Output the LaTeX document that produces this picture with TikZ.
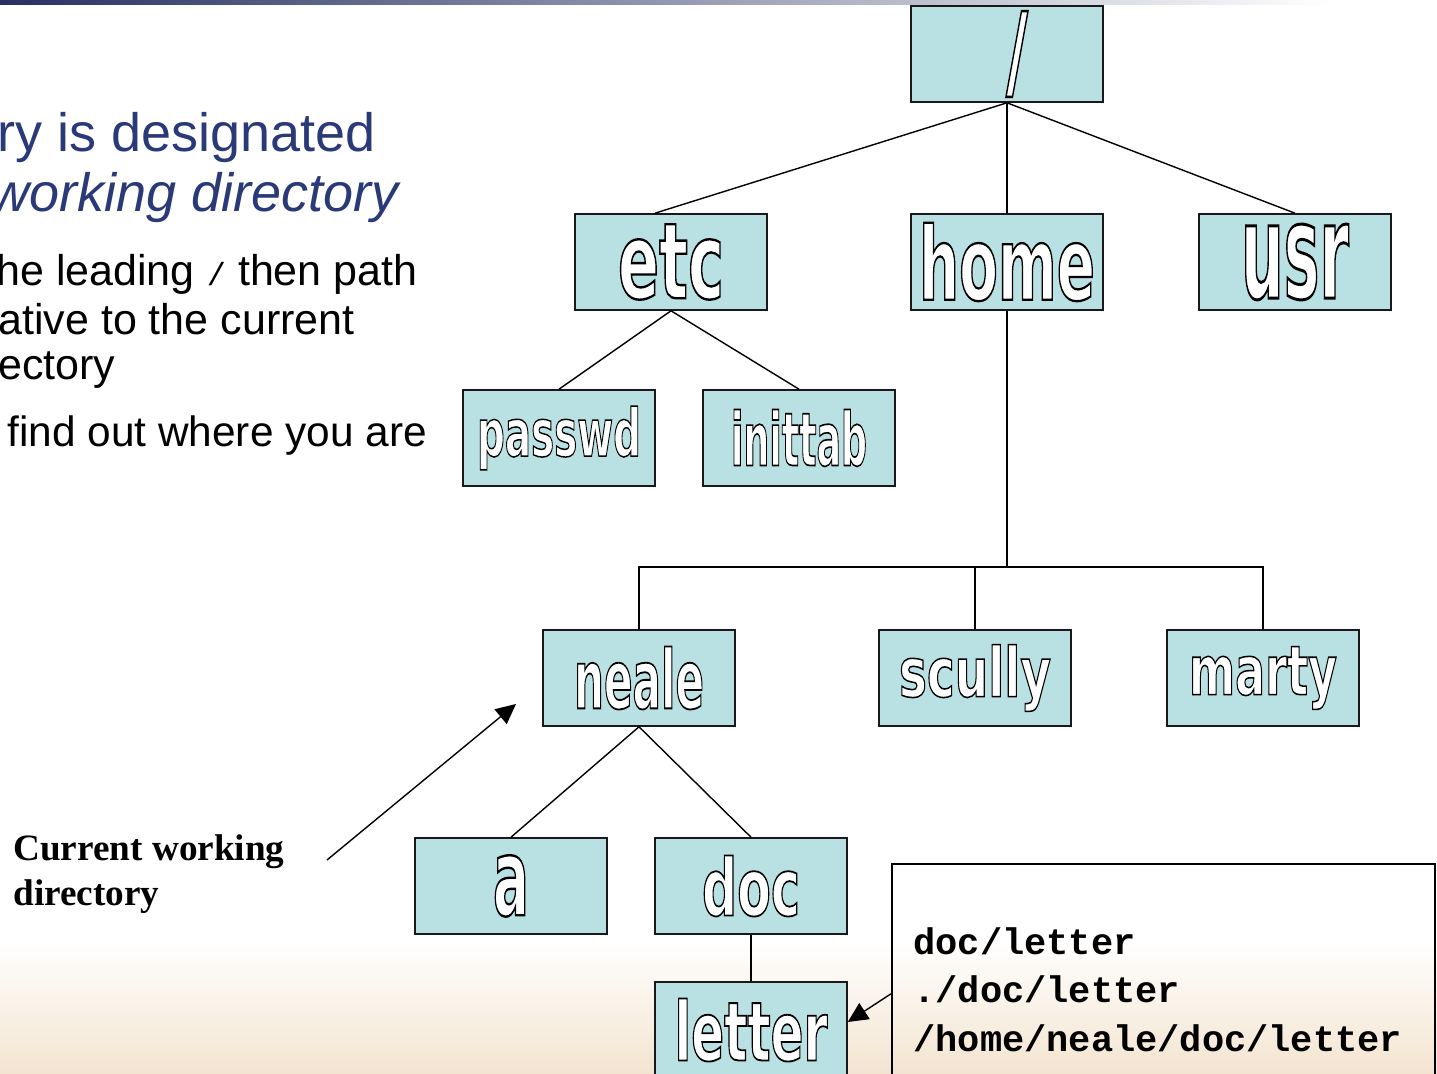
\documentclass[tikz,border=0pt]{standalone}
\usepackage{fontspec}
\usepackage{graphicx}
\usetikzlibrary{arrows.meta}
\newfontfamily\arialfont{Liberation Sans}
\newfontfamily\timesfont{Liberation Serif}
\newfontfamily\courfont{Liberation Mono}
\newfontfamily\heavyfont{DejaVu Sans}
\definecolor{BoxClr}{RGB}{185,224,227}
\definecolor{TitleClr}{RGB}{42,57,120}
\definecolor{BarClr}{RGB}{38,48,98}
\definecolor{SandClr}{RGB}{243,228,208}
% white letters with a black rim
\newcommand\outl[1]{\special{pdf:literal direct 2 Tr 0.9 w 1 g 0 G}#1\special{pdf:literal direct 0 Tr 0 g 0 G}}
\newcommand\dirlabel[3]{\resizebox{\dimexpr #1pt/2\relax}{\dimexpr #2pt/2\relax}{\outl{#3}}}

\begin{document}
\begin{tikzpicture}[x=0.5pt,y=-0.5pt]
\tikzset{
  dirbox/.style={draw=black!90,line width=0.8pt,fill=BoxClr,minimum width=96pt,
    minimum height=48pt,inner sep=0pt,font=\heavyfont\bfseries\fontsize{40}{40}\selectfont},
  branch/.style={line width=0.7pt},
  pointer/.style={line width=0.7pt,-{Triangle[length=10pt,width=9.5pt]}},
  slidetext/.style={anchor=base west,inner sep=0pt}
}
\useasboundingbox (0,0) rectangle (1437,1074);

% slide background
\shade[left color=BarClr,right color=white] (0,0) rectangle (1330,5);
\shade[top color=white,bottom color=SandClr] (0,940) rectangle (1437,1074);

% slide text
\node[slidetext,text=TitleClr,font=\arialfont\fontsize{27}{30}\selectfont] (title1) at (-3,152) {ry is designated};
\node[slidetext,text=TitleClr,font=\arialfont\itshape\fontsize{27}{30}\selectfont] (title2) at (-10,212) {working directory};
\node[slidetext,font=\arialfont\fontsize{21.5}{25}\selectfont] (line1) at (-4,286)
  {he leading\hspace{6pt}{\courfont\fontsize{16}{16}\selectfont /}\hspace{6pt}then path};
\node[slidetext,font=\arialfont\fontsize{21.5}{25}\selectfont] (line2) at (-2,335) {ative to the current};
\node[slidetext,font=\arialfont\fontsize{21.5}{25}\selectfont] (line3) at (-2,380) {ectory};
\node[slidetext,font=\arialfont\fontsize{21.2}{25}\selectfont] (line4) at (7,447) {find out where you are};

% the tree
\node[dirbox] (root) at (1007,54) {\hspace*{10pt}\dirlabel{22}{76}{/}};
\node[dirbox] (etc) at (671,262) {\dirlabel{106}{74}{etc}};
\node[dirbox] (home) at (1007,262) {\dirlabel{176}{77}{home}};
\node[dirbox] (usr) at (1295,262) {\dirlabel{108}{74}{usr}};
\node[dirbox] (passwd) at (559,438) {\dirlabel{164}{50}{passwd}};
\node[dirbox] (inittab) at (799,438) {\dirlabel{136}{56}{inittab}};
\node[dirbox] (neale) at (639,678) {\dirlabel{130}{62}{neale}};
\node[dirbox] (scully) at (975,678) {\dirlabel{152}{52}{scully}};
\node[dirbox] (marty) at (1263,678) {\dirlabel{148}{48}{marty}};
\node[dirbox] (a) at (511,886) {\dirlabel{36}{60}{a}};
\node[dirbox] (doc) at (751,886) {\dirlabel{98}{60}{doc}};
\node[dirbox] (letter) at (751,1030) {\dirlabel{153}{62}{letter}};

\coordinate (bus) at (1007,567);

\draw[branch] (root.south) -- ([xshift=-8pt]etc.north);
\draw[branch] (root.south) -- (home.north);
\draw[branch] (root.south) -- (usr.north);
\draw[branch] (etc.south) -- (passwd.north);
\draw[branch] (etc.south) -- (inittab.north);
\draw[branch] (home.south) -- (bus);
\draw[branch] (neale.north) |- (bus) -| (marty.north);
\draw[branch] (scully.north) -- (scully.north |- bus);
\draw[branch] (neale.south) -- (a.north);
\draw[branch] (neale.south) -- (doc.north);
\draw[branch] (doc.south) -- (letter.north);

% current working directory
\node[anchor=north west,inner sep=0pt,align=left,font=\timesfont\bfseries\fontsize{18.6}{22.5}\selectfont] (cwd) at (13,834)
  {Current working\\directory};
\coordinate (cwdtail) at (327,860);
\coordinate (cwdtip) at (516,704);
\draw[pointer] (cwdtail) -- (cwdtip);

% three ways to name the letter
\node[draw,line width=0.8pt,anchor=north west,inner sep=0pt,minimum width=271.5pt,minimum height=115pt] (pathbox) at (891,863) {};
\node[anchor=north west,inner sep=0pt,align=left,font=\courfont\bfseries\fontsize{18.5}{24.25}\selectfont] (pathlist) at (913,927)
  {doc/letter\\./doc/letter\\/home/neale/doc/letter};
\draw[pointer] ([yshift=-7.5pt]pathbox.west) -- ([yshift=4pt]letter.east);

\end{tikzpicture}
\end{document}
